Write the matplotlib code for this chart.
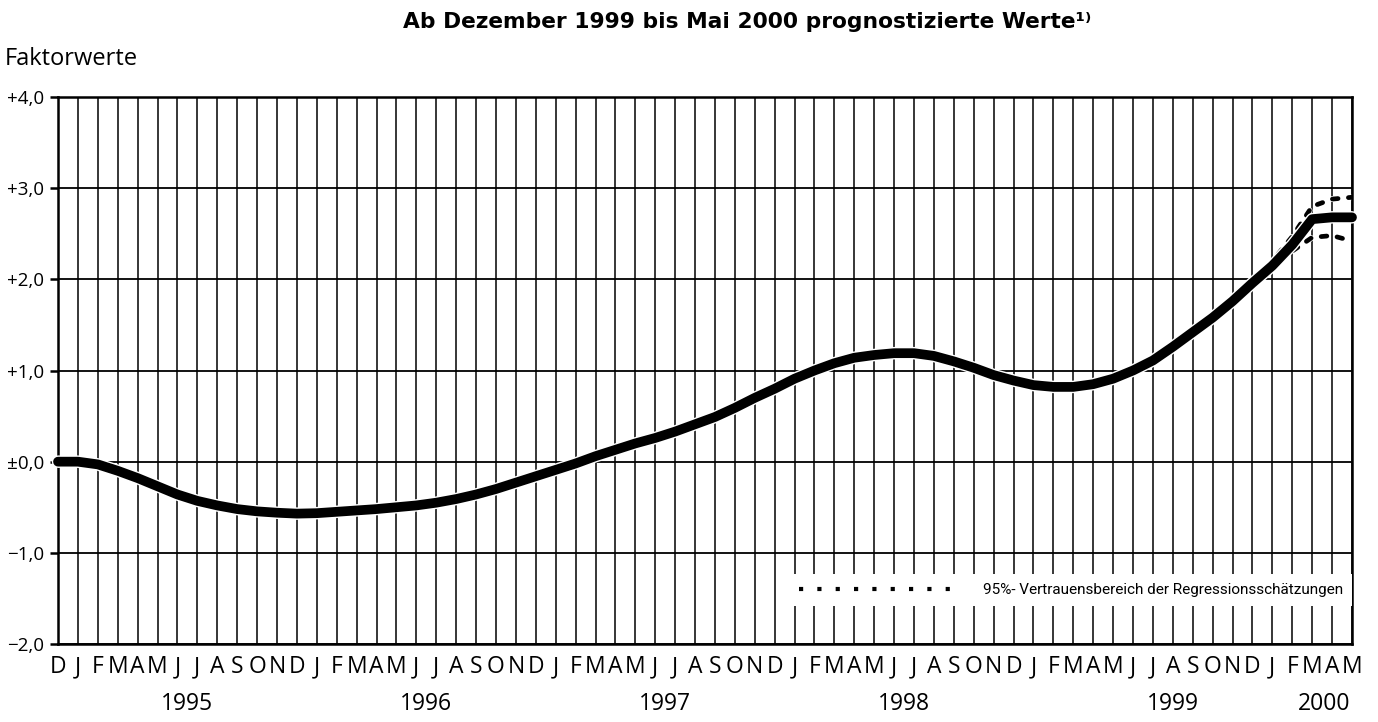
import matplotlib.pyplot as plt
import matplotlib.patheffects as pe
from matplotlib.lines import Line2D

plt.rcParams['font.family'] = ['Open Sans', 'DejaVu Sans']

# month initials, Dec 1994 .. May 2000
months = ["D"] + ["J", "F", "M", "A", "M", "J", "J", "A", "S", "O", "N", "D"] * 5 + ["J", "F", "M", "A", "M"]

factor = [0.00, 0.00, -0.03, -0.10, -0.18, -0.27, -0.36, -0.43, -0.48, -0.52,
          -0.545, -0.56, -0.57, -0.565, -0.55, -0.535, -0.52, -0.50, -0.48, -0.45,
          -0.41, -0.36, -0.30, -0.23, -0.16, -0.09, -0.02, 0.06, 0.13, 0.20,
          0.26, 0.33, 0.41, 0.49, 0.59, 0.70, 0.80, 0.91, 1.00, 1.08,
          1.14, 1.17, 1.19, 1.19, 1.16, 1.10, 1.03, 0.95, 0.89, 0.84,
          0.82, 0.82, 0.85, 0.91, 1.00, 1.11, 1.26, 1.42, 1.58, 1.76,
          1.96, 2.15, 2.38, 2.66, 2.68, 2.68]

band_months = [59, 60, 61, 62, 63, 64, 65]
band_upper = [1.78, 1.99, 2.20, 2.47, 2.80, 2.88, 2.90]
band_lower = [1.74, 1.93, 2.13, 2.31, 2.46, 2.48, 2.42]

years = ["1995", "1996", "1997", "1998", "1999", "2000"]
year_pos = [6.5, 18.5, 30.5, 42.5, 56.0, 63.6]

yticks = [4, 3, 2, 1, 0, -1, -2]
ytick_labels = ["+4,0", "+3,0", "+2,0", "+1,0", "±0,0", "−1,0", "−2,0"]

title = "Ab Dezember 1999 bis Mai 2000 prognostizierte Werte¹⁾"
legend_label = "95%- Vertrauensbereich der Regressionsschätzungen"

x = list(range(len(months)))

fig = plt.figure(figsize=(13.78, 7.22), dpi=100)
ax = fig.add_axes([0.04209, 0.10803, 0.93904, 0.75762])

ax.set_xlim(0, len(months) - 1)
ax.set_ylim(-2, 4)

ax.set_xticks(x)
ax.set_xticklabels(months, fontsize=16.5)
ax.set_yticks(yticks)
ax.set_yticklabels(ytick_labels, fontsize=13.5)
ax.tick_params(axis='x', length=0, pad=8)
ax.tick_params(axis='y', length=6, width=1.8, pad=4, direction='out')

ax.set_axisbelow(True)
ax.grid(axis='x', color='k', lw=1.1)
ax.grid(axis='y', color='k', lw=1.3)
for s in ax.spines.values():
    s.set_linewidth(1.8)

# confidence band, white edge like the main line
halo = [pe.Stroke(linewidth=4.4, foreground='white'), pe.Normal()]
ax.plot(band_months, band_upper, color='k', lw=3.4, linestyle=(0, (1.2, 2.2)),
        dash_capstyle='round', path_effects=halo, zorder=2.5)
ax.plot(band_months, band_lower, color='k', lw=3.4, linestyle=(0, (1.2, 2.2)),
        dash_capstyle='round', path_effects=halo, zorder=2.5)

ax.plot(x, factor, color='k', lw=7, solid_capstyle='round', solid_joinstyle='round',
        path_effects=[pe.Stroke(linewidth=9, foreground='white'), pe.Normal()],
        clip_on=False, zorder=3)

handle = Line2D([], [], color='k', lw=3, linestyle=(0, (1, 3.4)), dash_capstyle='butt')
leg = ax.legend([handle], [legend_label], loc='center right', bbox_to_anchor=(1, 0.0987),
                borderaxespad=0, frameon=True, fancybox=False, framealpha=1,
                edgecolor='none', facecolor='white', handlelength=10.1,
                handletextpad=1.9, borderpad=0.6, prop={'family': 'Roboto', 'size': 11})

for yr, pos in zip(years, year_pos):
    ax.text(pos, -0.11, yr, transform=ax.get_xaxis_transform(),
            ha='center', va='center', fontsize=16.5)

fig.text(5 / 1378, 1 - 59 / 722, "Faktorwerte", fontsize=17, ha='left', va='center')
fig.text(747 / 1378, 1 - 22 / 722, title, fontsize=15.7, fontweight='bold',
         family='DejaVu Sans', ha='center', va='center')

fig.savefig("out.png", dpi=100)
plt.close(fig)
